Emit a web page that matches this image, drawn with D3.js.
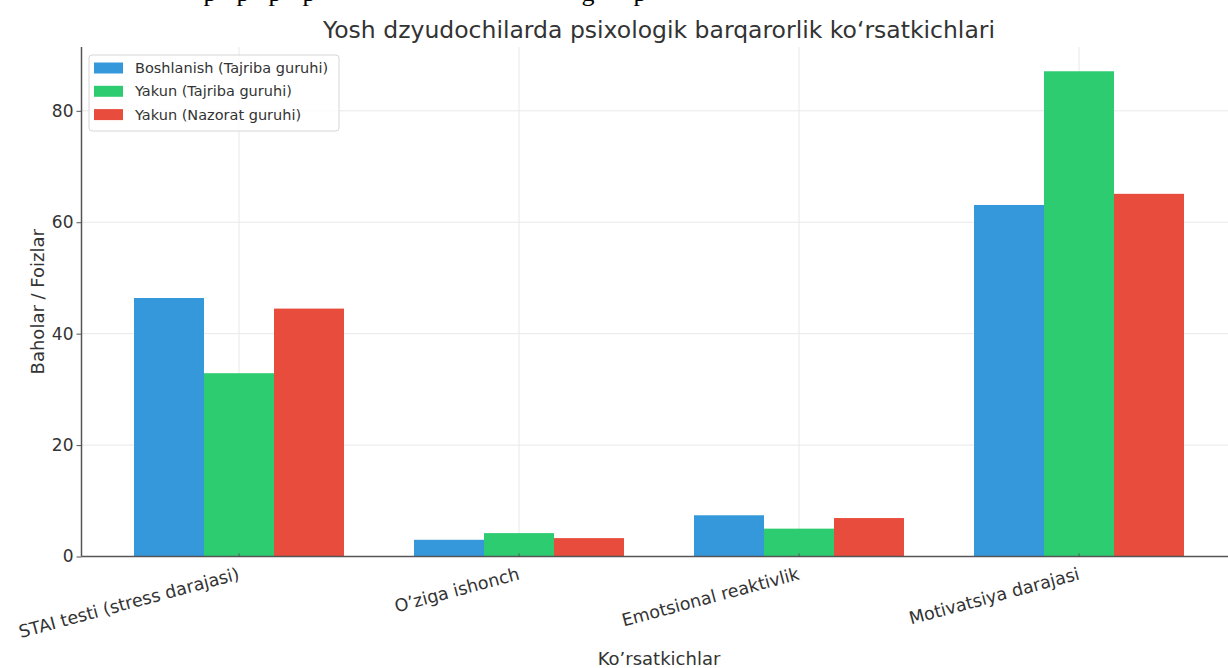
<!DOCTYPE html>
<html>
<head>
<meta charset="utf-8">
<script src="https://cdn.jsdelivr.net/npm/d3@7"></script>
<style>
  body { margin: 0; background: #fff; }
  svg { display: block; font-family: "DejaVu Sans", sans-serif; }
</style>
</head>
<body>
<script>
// data
const categories = ["STAI testi (stress darajasi)", "O\u2019ziga ishonch", "Emotsional reaktivlik", "Motivatsiya darajasi"];
const seriesNames = ["Boshlanish (Tajriba guruhi)", "Yakun (Tajriba guruhi)", "Yakun (Nazorat guruhi)"];
const boshlanishTajriba = [46.4, 3.0, 7.4, 63.1];
const yakunTajriba = [32.9, 4.2, 5.0, 87.1];
const yakunNazorat = [44.5, 3.3, 6.9, 65.1];
const yTicks = [0, 20, 40, 60, 80];
const colors = ["#3498db", "#2ecc71", "#e74c3c"];

const seriesValues = [boshlanishTajriba, yakunTajriba, yakunNazorat];

const width = 1228, height = 668;
const margin = {top: 47, left: 81.5, bottom: 556.5, right: 1236.5};

const svg = d3.select("body").append("svg")
  .attr("width", width)
  .attr("height", height);

// cropped line of the surrounding document, only descenders show
const docLine = svg.append("g")
  .attr("font-family", "'Liberation Serif', serif")
  .attr("font-size", 26)
  .attr("fill", "#000");
[["p", 210], ["p", 243], ["p", 275], ["p", 309], ["g", 588], ["p", 640]].forEach(d => {
  docLine.append("text").attr("x", d[1]).attr("y", 1).attr("text-anchor", "middle").text(d[0]);
});

const x0 = d3.scaleBand()
  .domain(categories)
  .range([margin.left, margin.right])
  .paddingInner(0)
  .paddingOuter(0.0625);

const groupWidth = x0.bandwidth() * 0.75;
const x1 = d3.scaleBand()
  .domain(seriesNames)
  .range([0, groupWidth])
  .padding(0);

const maxVal = d3.max(seriesValues.flat());
const y = d3.scaleLinear()
  .domain([0, maxVal * 1.05])
  .range([margin.bottom, margin.top]);

// grid
svg.append("g").selectAll("line.h")
  .data(yTicks)
  .enter().append("line")
  .attr("x1", margin.left).attr("x2", margin.right)
  .attr("y1", d => y(d)).attr("y2", d => y(d))
  .attr("stroke", "#e8e8e8").attr("stroke-width", 1);

svg.append("g").selectAll("line.v")
  .data(categories)
  .enter().append("line")
  .attr("x1", d => x0(d) + x0.bandwidth() / 2).attr("x2", d => x0(d) + x0.bandwidth() / 2)
  .attr("y1", margin.top).attr("y2", margin.bottom)
  .attr("stroke", "#e8e8e8").attr("stroke-width", 1);

// bars
const groups = svg.append("g").selectAll("g")
  .data(categories)
  .enter().append("g")
  .attr("transform", d => "translate(" + (x0(d) + x0.bandwidth() / 2 - groupWidth / 2) + ",0)");

groups.selectAll("rect")
  .data((d, i) => seriesNames.map((s, j) => ({s: s, j: j, v: seriesValues[j][i]})))
  .enter().append("rect")
  .attr("x", d => x1(d.s))
  .attr("width", x1.bandwidth())
  .attr("y", d => y(d.v))
  .attr("height", d => y(0) - y(d.v))
  .attr("fill", d => colors[d.j]);

// y axis
const yAxis = svg.append("g")
  .attr("transform", "translate(" + margin.left + ",0)")
  .call(d3.axisLeft(y).tickValues(yTicks).tickSize(5).tickPadding(3).tickFormat(d3.format("d")));
yAxis.select(".domain").attr("stroke", "#555").attr("stroke-width", 1.5)
  .attr("d", "M0," + margin.top + "V" + margin.bottom);
yAxis.selectAll(".tick line").attr("stroke", "#555");
yAxis.selectAll(".tick text").attr("fill", "#333").attr("font-size", 17)
  .attr("font-family", "'DejaVu Sans', sans-serif");

// x axis
const xAxis = svg.append("g")
  .attr("transform", "translate(0," + margin.bottom + ")")
  .call(d3.axisBottom(x0).tickSize(0).tickFormat(""));
xAxis.select(".domain").attr("stroke", "#555").attr("stroke-width", 1.5)
  .attr("d", "M" + margin.left + ",0H" + width);
xAxis.selectAll(".tick line").attr("y2", -3).attr("stroke", "#555");

svg.append("g").selectAll("text")
  .data(categories)
  .enter().append("text")
  .attr("transform", d => "translate(" + (x0(d) + x0.bandwidth() / 2 - 2) + "," + (margin.bottom + 10) + ") rotate(-15)")
  .attr("text-anchor", "end")
  .attr("dy", "0.75em")
  .attr("font-size", 17.5)
  .attr("fill", "#333")
  .text(d => d);

// titles
svg.append("text")
  .attr("x", (margin.left + margin.right) / 2)
  .attr("y", 38)
  .attr("text-anchor", "middle")
  .attr("font-size", 23.5)
  .attr("fill", "#333")
  .text("Yosh dzyudochilarda psixologik barqarorlik ko\u2018rsatkichlari");

svg.append("text")
  .attr("x", (margin.left + margin.right) / 2)
  .attr("y", 665)
  .attr("text-anchor", "middle")
  .attr("font-size", 18)
  .attr("fill", "#333")
  .text("Ko\u2019rsatkichlar");

svg.append("text")
  .attr("transform", "translate(44," + (margin.top + margin.bottom) / 2 + ") rotate(-90)")
  .attr("text-anchor", "middle")
  .attr("font-size", 18)
  .attr("fill", "#333")
  .text("Baholar / Foizlar");

// legend
const legend = svg.append("g").attr("transform", "translate(89,55)");
legend.append("rect")
  .attr("width", 250).attr("height", 76)
  .attr("rx", 3)
  .attr("fill", "#fff").attr("fill-opacity", 0.8)
  .attr("stroke", "#d6d6d6");
const items = legend.selectAll("g.item")
  .data(seriesNames)
  .enter().append("g")
  .attr("transform", (d, i) => "translate(5," + (13 + i * 23.3) + ")");
items.append("rect")
  .attr("y", -5.5).attr("width", 29).attr("height", 11)
  .attr("fill", (d, i) => colors[i]);
items.append("text")
  .attr("x", 41).attr("dy", "0.35em")
  .attr("font-size", 14.5)
  .attr("fill", "#333")
  .text(d => d);
</script>
</body>
</html>
